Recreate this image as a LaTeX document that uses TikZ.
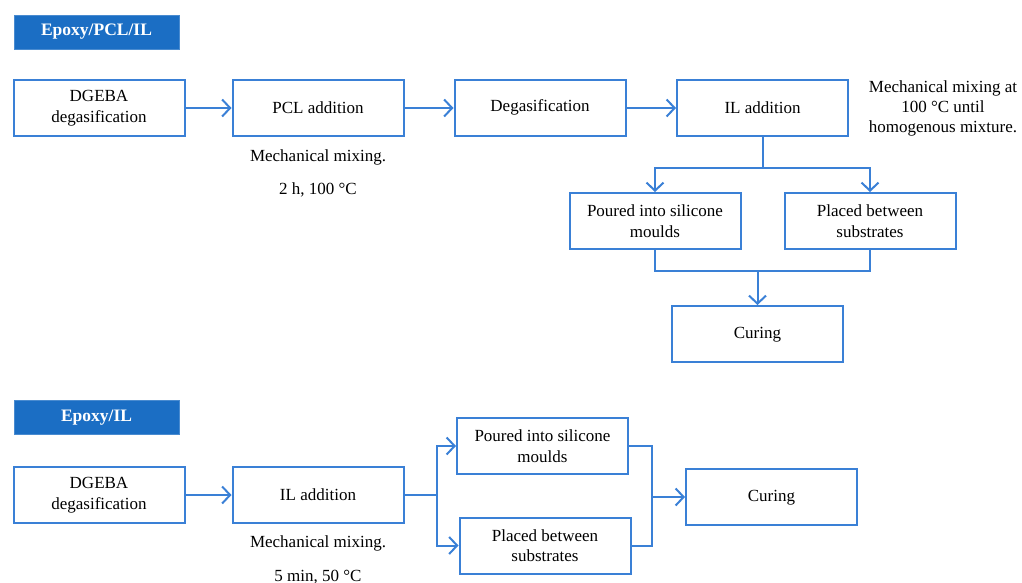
\documentclass[tikz,border=0pt]{standalone}
\usepackage{fontspec}
\setmainfont{Liberation Serif}
\usepackage{tikz}
\usetikzlibrary{arrows.meta, positioning, calc}
\definecolor{epLine}{HTML}{3A80D6}
\definecolor{epHead}{HTML}{1B6EC4}
\tikzset{
  stepbox/.style={
    draw=epLine, line width=2pt, minimum width=171pt, minimum height=56pt,
    inner sep=2pt, align=center, font=\fontsize{17}{20.5}\selectfont, fill=white
  },
  headbox/.style={
    fill=epHead, draw=epHead!80!white, minimum width=165pt, minimum height=34pt,
    inner sep=0pt, text height=12pt, text depth=4pt, text=white,
    font=\fontsize{17.5}{20}\selectfont\bfseries
  },
  note/.style={align=center, inner sep=0pt, font=\fontsize{17}{20}\selectfont},
  link/.style={draw=epLine, line width=2pt},
  flow/.style={link, -{Straight Barb[length=8pt, width=17pt]}}
}

\begin{document}
\begin{tikzpicture}[x=1pt, y=-1pt]
  \useasboundingbox (0,0) rectangle (1022,583);

  % Epoxy/PCL/IL
  \node[headbox] (hdrA) at (96.5,32) {Epoxy/PCL/IL};
  \node[stepbox] (dgebaA) at (99,108) {DGEBA\\degasification};
  \node[stepbox] (pclA) at (318,108) {PCL addition};
  \node[stepbox, text height=12pt, text depth=4pt] (degA) at (540,108) {Degasification};
  \node[stepbox] (ilA) at (762.5,108) {IL addition};
  \node[note] (noteA) at (943,108) {Mechanical mixing at\\100 °C until\\homogenous mixture.};
  \node[note] (mixA) at (318,157) {Mechanical mixing.};
  \node[note] (condA) at (318,190) {2 h, 100 °C};
  \node[stepbox] (pourA) at (655,221) {Poured into silicone\\moulds};
  \node[stepbox] (placeA) at (870,221) {Placed between\\substrates};
  \node[stepbox, text height=12pt, text depth=4pt] (cureA) at (757.5,334) {Curing};
  \coordinate (splitA) at (762.5,168);
  \coordinate (joinA) at (757.5,271);

  \draw[flow] (dgebaA) -- (pclA);
  \draw[flow] (pclA) -- (degA);
  \draw[flow] (degA) -- (ilA);
  \draw[link] (ilA) -- (splitA);
  \draw[flow] (splitA) -| (pourA);
  \draw[flow] (splitA) -| (placeA);
  \draw[link] (pourA) |- (joinA) -| (placeA);
  \draw[flow] (joinA) -- (cureA);

  % Epoxy/IL
  \node[headbox] (hdrB) at (96.5,417.5) {Epoxy/IL};
  \node[stepbox] (dgebaB) at (99,495) {DGEBA\\degasification};
  \node[stepbox] (ilB) at (318,495) {IL addition};
  \node[note] (mixB) at (318,543) {Mechanical mixing.};
  \node[note] (condB) at (318,577) {5 min, 50 °C};
  \node[stepbox] (pourB) at (542.5,446) {Poured into silicone\\moulds};
  \node[stepbox] (placeB) at (545,545.5) {Placed between\\substrates};
  \node[stepbox, text height=12pt, text depth=4pt] (cureB) at (771.5,497) {Curing};
  \coordinate (splitB) at (437,495);
  \coordinate (joinB) at (652,497);

  \draw[flow] (dgebaB) -- (ilB);
  \draw[link] (ilB) -- (splitB);
  \draw[flow] (splitB) |- (pourB);
  \draw[flow] (splitB) |- (placeB);
  \draw[link] (pourB) -| (joinB) |- (placeB);
  \draw[flow] (joinB) -- (cureB);
\end{tikzpicture}
\end{document}
